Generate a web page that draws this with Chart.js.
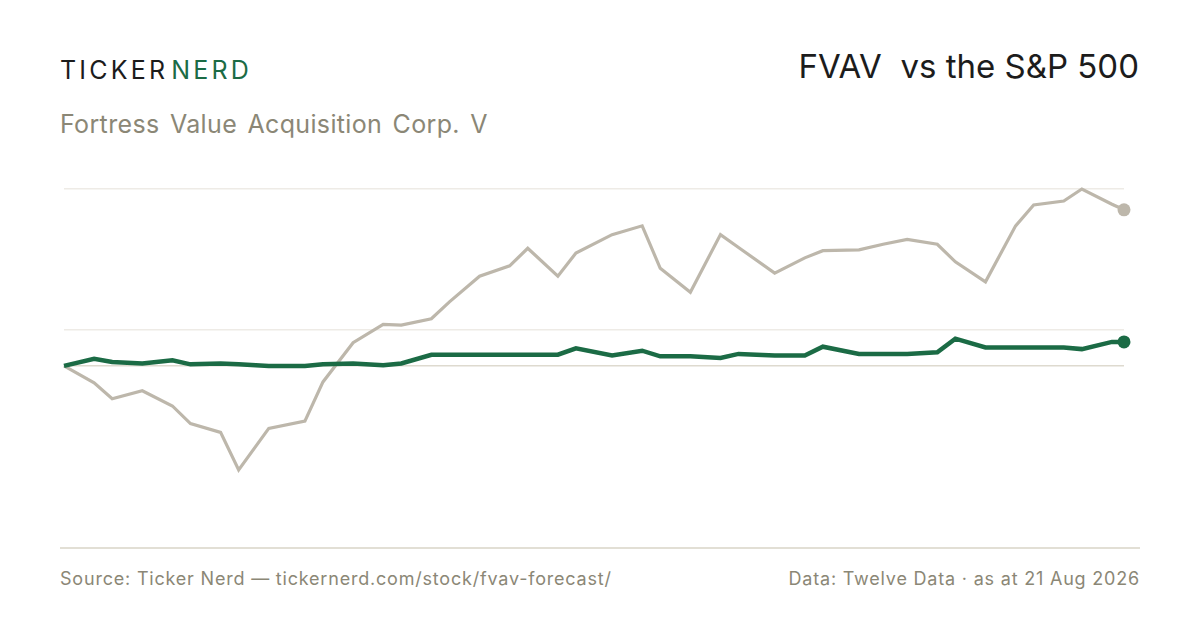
<!DOCTYPE html>
<html>
<head>
<meta charset="utf-8">
<script src="https://cdn.jsdelivr.net/npm/chart.js@4.4.1/dist/chart.umd.min.js"></script>
<style>
  html, body { margin: 0; padding: 0; background: #ffffff; }
  body { width: 1200px; height: 630px; position: relative; overflow: hidden; font-family: Inter, "Noto Sans", sans-serif; }
  .brand { position: absolute; left: 60px; top: 55px; font-size: 25px; letter-spacing: 3.2px; color: #1c1c1c; line-height: 30px; }
  .brand span { color: #1b6b45; margin-left: 3px; }
  .title { position: absolute; right: 61px; top: 46px; font-size: 33px; color: #1c1c1c; line-height: 40px; white-space: pre; }
  .subtitle { position: absolute; left: 60px; top: 108px; font-size: 25px; color: #8b8776; line-height: 32px; word-spacing: 3px; letter-spacing: 0.35px; }
  .chart-box { position: absolute; left: 54px; top: 179px; width: 1080px; height: 301px; }
  .divider { position: absolute; left: 60px; top: 547px; width: 1080px; height: 2px; background: #e2dfd5; }
  .footer { position: absolute; top: 567px; font-size: 18px; letter-spacing: 0.8px; color: #8b8776; line-height: 24px; }
  .footer.left { left: 60px; }
  .footer.right { right: 60px; }
</style>
</head>
<body>
<div class="brand">TICKER<span>NERD</span></div>
<div class="title">FVAV  vs the S&amp;P 500</div>
<div class="subtitle">Fortress Value Acquisition Corp. V</div>
<div class="chart-box"><canvas id="chart"></canvas></div>
<div class="divider"></div>
<div class="footer left">Source: Ticker Nerd — tickernerd.com/stock/fvav-forecast/</div>
<div class="footer right">Data: Twelve Data · as at 21 Aug 2026</div>

<script>
// trading days since the start of the window
const days = [0, 5, 8, 13, 18, 21, 26, 29, 34, 40, 43, 48, 53, 56, 61, 64, 69, 74, 77, 82, 85, 91,
    96, 99, 104, 109, 112, 118, 123, 126, 132, 136, 140, 145, 148, 153, 158, 161, 166, 169, 174, 176];

// % change since start
const fvav = [0, 0.9, 0.5, 0.3, 0.7, 0.2, 0.3, 0.2, 0, 0, 0.2, 0.3, 0.1, 0.3, 1.4, 1.4, 1.4, 1.4, 1.4, 1.4, 2.2, 1.3,
    1.9, 1.2, 1.2, 1.0, 1.5, 1.3, 1.3, 2.4, 1.5, 1.5, 1.5, 1.7, 3.4, 2.3, 2.3, 2.3, 2.3, 2.1, 3.0, 3.0];

const spx = [0, -2.1, -4.1, -3.1, -5.0, -7.2, -8.3, -13.0, -7.8, -6.9, -2.0, 2.9, 5.2, 5.1, 5.9, 8.0, 11.2, 12.5, 14.7, 11.2, 14.1, 16.4,
    17.5, 12.2, 9.2, 16.4, 14.8, 11.6, 13.5, 14.4, 14.5, 15.2, 15.8, 15.2, 13.0, 10.5, 17.5, 20.1, 20.6, 22.1, 20.2, 19.5];

// horizontal guide lines: zero line, mid of range, top of range
const gridTicks = [0, 4.55, 22.1];

const GREEN = '#1b6b45';
const GREY = '#bdb7ab';

function toPoints(values) {
    return values.map((v, i) => ({ x: days[i], y: v }));
}

// only the latest point gets a dot
function lastDot(values, r) {
    return values.map((v, i) => (i === values.length - 1 ? r : 0));
}

new Chart(document.getElementById('chart'), {
    type: 'line',
    data: {
        datasets: [
            {
                label: 'FVAV',
                data: toPoints(fvav),
                borderColor: GREEN,
                backgroundColor: GREEN,
                borderWidth: 4.5,
                pointRadius: lastDot(fvav, 6.5),
                pointBorderWidth: 0,
                pointHoverRadius: 0,
                tension: 0,
                clip: false
            },
            {
                label: 'S&P 500',
                data: toPoints(spx),
                borderColor: GREY,
                backgroundColor: GREY,
                borderWidth: 3.2,
                pointRadius: lastDot(spx, 6.5),
                pointBorderWidth: 0,
                pointHoverRadius: 0,
                tension: 0,
                clip: false
            }
        ]
    },
    options: {
        responsive: true,
        maintainAspectRatio: false,
        animation: false,
        layout: { padding: { left: 10, right: 10, top: 10, bottom: 10 } },
        plugins: { legend: { display: false }, tooltip: { enabled: false } },
        scales: {
            x: {
                type: 'linear',
                min: days[0],
                max: days[days.length - 1],
                display: false
            },
            y: {
                min: -13.0,
                max: 22.1,
                afterBuildTicks: (scale) => { scale.ticks = gridTicks.map(v => ({ value: v })); },
                ticks: { display: false },
                border: { display: false },
                grid: {
                    drawTicks: false,
                    lineWidth: 1.5,
                    color: (ctx) => (ctx.tick && ctx.tick.value === 0 ? '#dedacf' : '#eeebe6')
                }
            }
        }
    }
});
</script>
</body>
</html>
